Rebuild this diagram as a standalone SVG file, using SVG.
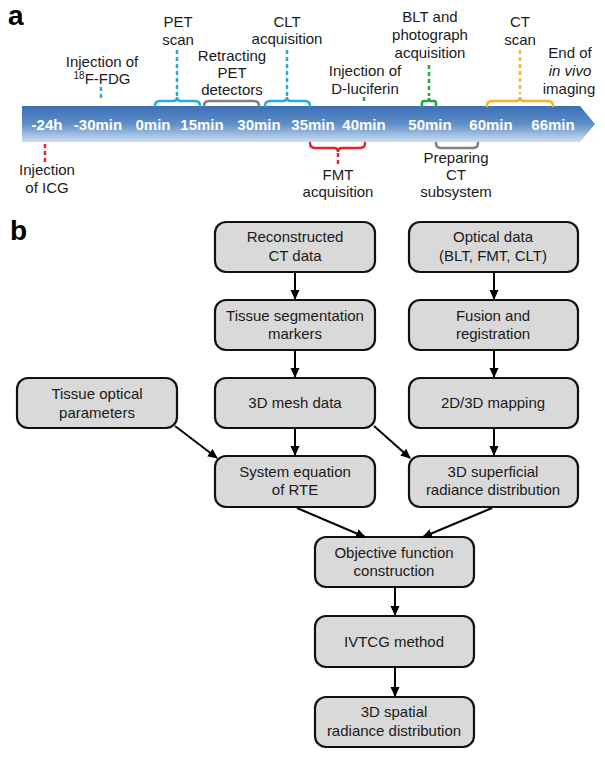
<svg xmlns="http://www.w3.org/2000/svg" width="605" height="760" viewBox="0 0 605 760">
<style>
  .t { font-family: "Liberation Sans", Arial, sans-serif; font-size: 15px; fill: #1a1a1a; text-anchor: middle; }
  .bar { font-family: "Liberation Sans", Arial, sans-serif; font-size: 15px; font-weight: bold; fill: #ffffff; text-anchor: middle; }
  .lbl { font-family: "Liberation Sans", Arial, sans-serif; font-size: 28px; font-weight: bold; fill: #000; }
  .box { fill: #d9d9d9; stroke: #111; stroke-width: 2.2; }
  .conn { stroke: #000; stroke-width: 2; fill: none; marker-end: url(#ah); }
  .br { fill: none; stroke-width: 2.5; stroke-linecap: round; }
  .dash { stroke-width: 2.5; stroke-dasharray: 4 3; fill: none; }
  .blue { stroke: #2aa8e0; }
  .gray { stroke: #808080; }
  .red { stroke: #e3262b; }
  .green { stroke: #22a64c; }
  .yellow { stroke: #f6b324; }
</style>
<defs>
  <linearGradient id="barg" x1="0" y1="0" x2="0" y2="1">
    <stop offset="0" stop-color="#3b6fb5"/>
    <stop offset="0.5" stop-color="#5f8ec8"/>
    <stop offset="1" stop-color="#cddff1"/>
  </linearGradient>
  <marker id="ah" viewBox="0 0 10 10" markerUnits="userSpaceOnUse" markerWidth="10" markerHeight="10" refX="9" refY="5" orient="auto">
    <path d="M0,0.5 L10,5 L0,9.5 z" fill="#000"/>
  </marker>
</defs>

<!-- Panel a -->
<text class="lbl" x="8" y="25">a</text>

<g id="timeline">
  <path d="M22,106 L580,106 L595,124 L580,142 L22,142 Z" fill="url(#barg)"/>
  <text class="bar" x="47" y="130">-24h</text>
  <text class="bar" x="98" y="130">-30min</text>
  <text class="bar" x="153" y="130">0min</text>
  <text class="bar" x="202" y="130">15min</text>
  <text class="bar" x="259" y="130">30min</text>
  <text class="bar" x="313" y="130">35min</text>
  <text class="bar" x="364" y="130">40min</text>
  <text class="bar" x="430" y="130">50min</text>
  <text class="bar" x="491" y="130">60min</text>
  <text class="bar" x="553" y="130">66min</text>
</g>

<g id="ev-icg">
  <line class="dash red" x1="45" y1="144" x2="45" y2="163"/>
  <text class="t" x="47" y="175">Injection</text>
  <text class="t" x="47" y="193">of ICG</text>
</g>

<g id="ev-fdg">
  <line class="dash blue" x1="101" y1="87" x2="101" y2="100"/>
  <text class="t" x="102" y="67">Injection of</text>
  <text class="t" x="102" y="84"><tspan font-size="10" dy="-5">18</tspan><tspan dy="5">F-FDG</tspan></text>
</g>

<g id="ev-pet">
  <path class="br blue" d="M155,106 Q155,101 160,101 L173,101 Q177,101 177,97 Q177,101 181,101 L195,101 Q200,101 200,106"/>
  <line class="dash blue" x1="177" y1="50" x2="177" y2="96"/>
  <text class="t" x="178" y="27">PET</text>
  <text class="t" x="178" y="45">scan</text>
</g>

<g id="ev-retract">
  <path class="br gray" d="M204,106 Q204,101 209,101 L254,101 Q259,101 259,106"/>
  <text class="t" x="232" y="61">Retracting</text>
  <text class="t" x="232" y="78">PET</text>
  <text class="t" x="232" y="95">detectors</text>
</g>

<g id="ev-clt">
  <path class="br blue" d="M265,106 Q265,101 270,101 L283,101 Q287,101 287,97 Q287,101 291,101 L305,101 Q310,101 310,106"/>
  <line class="dash blue" x1="287" y1="50" x2="287" y2="96"/>
  <text class="t" x="287" y="27">CLT</text>
  <text class="t" x="287" y="44">acquisition</text>
</g>

<g id="ev-fmt">
  <path class="br red" d="M310,143 Q310,148 315,148 L334,148 Q338,148 338,152 Q338,148 342,148 L360,148 Q365,148 365,143"/>
  <line class="dash red" x1="338" y1="153" x2="338" y2="164"/>
  <text class="t" x="338" y="180">FMT</text>
  <text class="t" x="338" y="197">acquisition</text>
</g>

<g id="ev-luciferin">
  <line class="dash green" x1="364" y1="97" x2="364" y2="101"/>
  <text class="t" x="365" y="76">Injection of</text>
  <text class="t" x="365" y="94">D-luciferin</text>
</g>

<g id="ev-blt">
  <path class="br green" d="M422,106 L422,103 Q422,101 424,101 L427,101 Q429,101 429,98 Q429,101 431,101 L434,101 Q436,101 436,103 L436,106"/>
  <line class="dash green" x1="429" y1="65" x2="429" y2="96"/>
  <text class="t" x="430" y="22">BLT and</text>
  <text class="t" x="430" y="40">photograph</text>
  <text class="t" x="430" y="58">acquisition</text>
</g>

<g id="ev-prepct">
  <path class="br gray" d="M436,143 Q436,148 441,148 L473,148 Q478,148 478,143"/>
  <text class="t" x="456" y="163">Preparing</text>
  <text class="t" x="456" y="180">CT</text>
  <text class="t" x="456" y="197">subsystem</text>
</g>

<g id="ev-ct">
  <path class="br yellow" d="M487,106 Q487,101 492,101 L516,101 Q520,101 520,97 Q520,101 524,101 L548,101 Q553,101 553,106"/>
  <line class="dash yellow" x1="520" y1="50" x2="520" y2="94"/>
  <text class="t" x="520" y="27">CT</text>
  <text class="t" x="520" y="45">scan</text>
</g>

<g id="ev-end">
  <text class="t" x="570" y="58">End of</text>
  <text class="t" x="570" y="76" font-style="italic">in vivo</text>
  <text class="t" x="569" y="94">imaging</text>
</g>

<!-- Panel b -->
<text class="lbl" x="10" y="240">b</text>

<g id="n-ct">
  <rect class="box" x="215" y="222" width="160" height="50" rx="11"/>
  <text class="t" x="295" y="242">Reconstructed</text>
  <text class="t" x="295" y="261">CT data</text>
</g>
<g id="n-seg">
  <rect class="box" x="215" y="300" width="160" height="50" rx="11"/>
  <text class="t" x="295" y="321">Tissue segmentation</text>
  <text class="t" x="295" y="339">markers</text>
</g>
<g id="n-mesh">
  <rect class="box" x="215" y="378" width="160" height="50" rx="11"/>
  <text class="t" x="295" y="408">3D mesh data</text>
</g>
<g id="n-tissue">
  <rect class="box" x="17" y="378" width="160" height="50" rx="11"/>
  <text class="t" x="97" y="399">Tissue optical</text>
  <text class="t" x="97" y="418">parameters</text>
</g>
<g id="n-rte">
  <rect class="box" x="215" y="456" width="160" height="51" rx="11"/>
  <text class="t" x="295" y="477">System equation</text>
  <text class="t" x="295" y="495">of RTE</text>
</g>
<g id="n-optical">
  <rect class="box" x="409" y="222" width="169" height="50" rx="11"/>
  <text class="t" x="493" y="242">Optical data</text>
  <text class="t" x="493" y="261">(BLT, FMT, CLT)</text>
</g>
<g id="n-fusion">
  <rect class="box" x="409" y="300" width="169" height="50" rx="11"/>
  <text class="t" x="493" y="321">Fusion and</text>
  <text class="t" x="493" y="339">registration</text>
</g>
<g id="n-map">
  <rect class="box" x="409" y="378" width="169" height="50" rx="11"/>
  <text class="t" x="493" y="408">2D/3D mapping</text>
</g>
<g id="n-superficial">
  <rect class="box" x="409" y="456" width="169" height="51" rx="11"/>
  <text class="t" x="493" y="477">3D superficial</text>
  <text class="t" x="493" y="495">radiance distribution</text>
</g>
<g id="n-objective">
  <rect class="box" x="315" y="537" width="159" height="50" rx="11"/>
  <text class="t" x="394" y="558">Objective function</text>
  <text class="t" x="394" y="576">construction</text>
</g>
<g id="n-ivtcg">
  <rect class="box" x="315" y="616" width="159" height="51" rx="11"/>
  <text class="t" x="394" y="647">IVTCG method</text>
</g>
<g id="n-spatial">
  <rect class="box" x="315" y="697" width="159" height="50" rx="11"/>
  <text class="t" x="394" y="717">3D spatial</text>
  <text class="t" x="394" y="736">radiance distribution</text>
</g>

<g id="connectors">
  <line class="conn" x1="295" y1="273" x2="295" y2="299"/>
  <line class="conn" x1="295" y1="351" x2="295" y2="377"/>
  <line class="conn" x1="295" y1="429" x2="295" y2="455"/>
  <line class="conn" x1="494" y1="273" x2="494" y2="299"/>
  <line class="conn" x1="494" y1="351" x2="494" y2="377"/>
  <line class="conn" x1="494" y1="429" x2="494" y2="455"/>
  <line class="conn" x1="175" y1="426" x2="217" y2="458"/>
  <line class="conn" x1="374" y1="426" x2="410" y2="458"/>
  <line class="conn" x1="297" y1="508" x2="365" y2="537"/>
  <line class="conn" x1="492" y1="508" x2="423" y2="537"/>
  <line class="conn" x1="395" y1="588" x2="395" y2="615"/>
  <line class="conn" x1="395" y1="668" x2="395" y2="696"/>
</g>
</svg>
